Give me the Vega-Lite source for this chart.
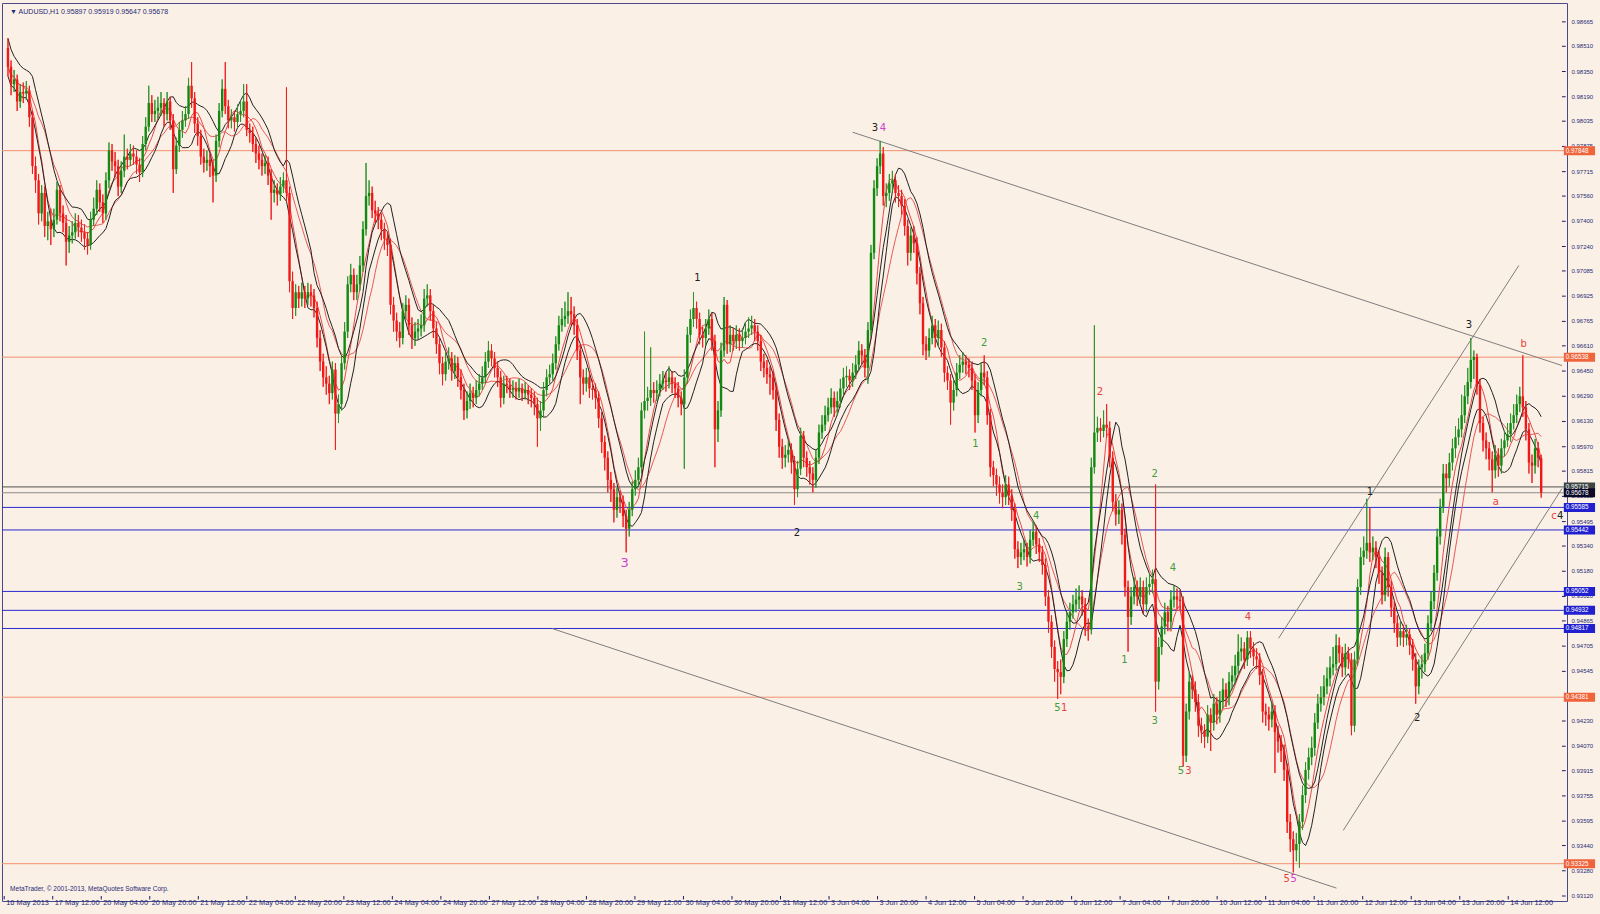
{
"$schema":"https://vega.github.io/schema/vega-lite/v6.json",
"width":1565,"height":898,
"autosize":{"type":"none"},
"padding":{"left":2,"top":3,"right":33,"bottom":13},
"background":"#FBF0E5",
"config":{"view":{"stroke":"#4A4A8A","strokeWidth":1,"fill":"#FBF0E5"},"text":{"font":"DejaVu Sans"}},
"resolve":{"scale":{"color":"independent","fill":"independent"}},
"datasets":{
"bars":[
{"i":0,"o":0.9850,"h":0.9856,"l":0.9832,"c":0.9838},{"i":1,"o":0.9838,"h":0.9842,"l":0.9820,"c":0.9827},{"i":2,"o":0.9827,"h":0.9836,"l":0.9822,"c":0.9830},{"i":3,"o":0.9830,"h":0.9833,"l":0.9810,"c":0.9816},{"i":4,"o":0.9816,"h":0.9827,"l":0.9812,"c":0.9822},{"i":5,"o":0.9822,"h":0.9828,"l":0.9815,"c":0.9821},{"i":6,"o":0.9821,"h":0.9829,"l":0.9817,"c":0.9823},{"i":7,"o":0.9823,"h":0.9826,"l":0.9800,"c":0.9806},{"i":8,"o":0.9806,"h":0.9810,"l":0.9770,"c":0.9775},{"i":9,"o":0.9775,"h":0.9781,"l":0.9758,"c":0.9766},
{"i":10,"o":0.9766,"h":0.9770,"l":0.9738,"c":0.9745},{"i":11,"o":0.9745,"h":0.9763,"l":0.9740,"c":0.9758},{"i":12,"o":0.9758,"h":0.9762,"l":0.9730,"c":0.9737},{"i":13,"o":0.9737,"h":0.9746,"l":0.9728,"c":0.9740},{"i":14,"o":0.9740,"h":0.9748,"l":0.9725,"c":0.9735},{"i":15,"o":0.9735,"h":0.9748,"l":0.9730,"c":0.9741},{"i":16,"o":0.9741,"h":0.9765,"l":0.9738,"c":0.9760},{"i":17,"o":0.9760,"h":0.9763,"l":0.9740,"c":0.9745},{"i":18,"o":0.9745,"h":0.9750,"l":0.9733,"c":0.9739},{"i":19,"o":0.9739,"h":0.9744,"l":0.9712,"c":0.9727},
{"i":20,"o":0.9727,"h":0.9737,"l":0.9720,"c":0.9731},{"i":21,"o":0.9731,"h":0.9740,"l":0.9726,"c":0.9733},{"i":22,"o":0.9733,"h":0.9745,"l":0.9729,"c":0.9739},{"i":23,"o":0.9739,"h":0.9744,"l":0.9730,"c":0.9736},{"i":24,"o":0.9736,"h":0.9741,"l":0.9727,"c":0.9733},{"i":25,"o":0.9733,"h":0.9738,"l":0.9722,"c":0.9729},{"i":26,"o":0.9729,"h":0.9733,"l":0.9719,"c":0.9725},{"i":27,"o":0.9725,"h":0.9746,"l":0.9722,"c":0.9741},{"i":28,"o":0.9741,"h":0.9755,"l":0.9737,"c":0.9748},{"i":29,"o":0.9748,"h":0.9766,"l":0.9744,"c":0.9760},
{"i":30,"o":0.9760,"h":0.9764,"l":0.9746,"c":0.9752},{"i":31,"o":0.9752,"h":0.9757,"l":0.9739,"c":0.9745},{"i":32,"o":0.9745,"h":0.9771,"l":0.9741,"c":0.9766},{"i":33,"o":0.9766,"h":0.9790,"l":0.9761,"c":0.9785},{"i":34,"o":0.9785,"h":0.9789,"l":0.9772,"c":0.9778},{"i":35,"o":0.9778,"h":0.9784,"l":0.9768,"c":0.9775},{"i":36,"o":0.9775,"h":0.9779,"l":0.9756,"c":0.9762},{"i":37,"o":0.9762,"h":0.9778,"l":0.9758,"c":0.9772},{"i":38,"o":0.9772,"h":0.9795,"l":0.9768,"c":0.9781},{"i":39,"o":0.9781,"h":0.9786,"l":0.9773,"c":0.9779},
{"i":40,"o":0.9779,"h":0.9789,"l":0.9775,"c":0.9783},{"i":41,"o":0.9783,"h":0.9788,"l":0.9776,"c":0.9781},{"i":42,"o":0.9781,"h":0.9785,"l":0.9770,"c":0.9776},{"i":43,"o":0.9776,"h":0.9780,"l":0.9765,"c":0.9771},{"i":44,"o":0.9771,"h":0.9794,"l":0.9768,"c":0.9789},{"i":45,"o":0.9789,"h":0.9806,"l":0.9785,"c":0.9800},{"i":46,"o":0.9800,"h":0.9826,"l":0.9797,"c":0.9815},{"i":47,"o":0.9815,"h":0.9820,"l":0.9803,"c":0.9808},{"i":48,"o":0.9808,"h":0.9817,"l":0.9803,"c":0.9810},{"i":49,"o":0.9810,"h":0.9819,"l":0.9805,"c":0.9812},
{"i":50,"o":0.9812,"h":0.9822,"l":0.9807,"c":0.9815},{"i":51,"o":0.9815,"h":0.9818,"l":0.9800,"c":0.9808},{"i":52,"o":0.9808,"h":0.9822,"l":0.9804,"c":0.9816},{"i":53,"o":0.9816,"h":0.9819,"l":0.9798,"c":0.9804},{"i":54,"o":0.9804,"h":0.9808,"l":0.9758,"c":0.9773},{"i":55,"o":0.9773,"h":0.9793,"l":0.9770,"c":0.9788},{"i":56,"o":0.9788,"h":0.9803,"l":0.9784,"c":0.9798},{"i":57,"o":0.9798,"h":0.9810,"l":0.9793,"c":0.9804},{"i":58,"o":0.9804,"h":0.9813,"l":0.9800,"c":0.9808},{"i":59,"o":0.9808,"h":0.9831,"l":0.9805,"c":0.9826},
{"i":60,"o":0.9826,"h":0.9841,"l":0.9812,"c":0.9818},{"i":61,"o":0.9818,"h":0.9822,"l":0.9796,"c":0.9802},{"i":62,"o":0.9802,"h":0.9806,"l":0.9788,"c":0.9794},{"i":63,"o":0.9794,"h":0.9798,"l":0.9776,"c":0.9781},{"i":64,"o":0.9781,"h":0.9786,"l":0.9771,"c":0.9777},{"i":65,"o":0.9777,"h":0.9785,"l":0.9772,"c":0.9779},{"i":66,"o":0.9779,"h":0.9783,"l":0.9768,"c":0.9775},{"i":67,"o":0.9775,"h":0.9779,"l":0.9752,"c":0.9769},{"i":68,"o":0.9769,"h":0.9795,"l":0.9765,"c":0.9791},{"i":69,"o":0.9791,"h":0.9815,"l":0.9787,"c":0.9810},
{"i":70,"o":0.9810,"h":0.9830,"l":0.9806,"c":0.9824},{"i":71,"o":0.9824,"h":0.9841,"l":0.9808,"c":0.9813},{"i":72,"o":0.9813,"h":0.9817,"l":0.9799,"c":0.9804},{"i":73,"o":0.9804,"h":0.9811,"l":0.9799,"c":0.9806},{"i":74,"o":0.9806,"h":0.9810,"l":0.9797,"c":0.9803},{"i":75,"o":0.9803,"h":0.9814,"l":0.9799,"c":0.9808},{"i":76,"o":0.9808,"h":0.9816,"l":0.9803,"c":0.9810},{"i":77,"o":0.9810,"h":0.9827,"l":0.9806,"c":0.9816},{"i":78,"o":0.9816,"h":0.9827,"l":0.9794,"c":0.9798},{"i":79,"o":0.9798,"h":0.9802,"l":0.9790,"c":0.9796},
{"i":80,"o":0.9796,"h":0.9800,"l":0.9784,"c":0.9789},{"i":81,"o":0.9789,"h":0.9793,"l":0.9777,"c":0.9783},{"i":82,"o":0.9783,"h":0.9788,"l":0.9773,"c":0.9779},{"i":83,"o":0.9779,"h":0.9783,"l":0.9769,"c":0.9775},{"i":84,"o":0.9775,"h":0.9782,"l":0.9770,"c":0.9777},{"i":85,"o":0.9777,"h":0.9781,"l":0.9763,"c":0.9769},{"i":86,"o":0.9769,"h":0.9773,"l":0.9741,"c":0.9758},{"i":87,"o":0.9758,"h":0.9766,"l":0.9752,"c":0.9760},{"i":88,"o":0.9760,"h":0.9764,"l":0.9750,"c":0.9757},{"i":89,"o":0.9757,"h":0.9768,"l":0.9753,"c":0.9762},
{"i":90,"o":0.9762,"h":0.9771,"l":0.9758,"c":0.9766},{"i":91,"o":0.9766,"h":0.9825,"l":0.9752,"c":0.9758},{"i":92,"o":0.9758,"h":0.9762,"l":0.9695,"c":0.9702},{"i":93,"o":0.9702,"h":0.9708,"l":0.9678,"c":0.9685},{"i":94,"o":0.9685,"h":0.9700,"l":0.9680,"c":0.9695},{"i":95,"o":0.9695,"h":0.9699,"l":0.9685,"c":0.9691},{"i":96,"o":0.9691,"h":0.9701,"l":0.9686,"c":0.9695},{"i":97,"o":0.9695,"h":0.9699,"l":0.9685,"c":0.9691},{"i":98,"o":0.9691,"h":0.9701,"l":0.9687,"c":0.9695},{"i":99,"o":0.9695,"h":0.9700,"l":0.9686,"c":0.9693},
{"i":100,"o":0.9693,"h":0.9697,"l":0.9679,"c":0.9685},{"i":101,"o":0.9685,"h":0.9689,"l":0.9660,"c":0.9666},{"i":102,"o":0.9666,"h":0.9671,"l":0.9645,"c":0.9651},{"i":103,"o":0.9651,"h":0.9656,"l":0.9635,"c":0.9641},{"i":104,"o":0.9641,"h":0.9648,"l":0.9630,"c":0.9637},{"i":105,"o":0.9637,"h":0.9642,"l":0.9624,"c":0.9631},{"i":106,"o":0.9631,"h":0.9651,"l":0.9627,"c":0.9646},{"i":107,"o":0.9646,"h":0.9650,"l":0.9595,"c":0.9618},{"i":108,"o":0.9618,"h":0.9630,"l":0.9612,"c":0.9624},{"i":109,"o":0.9624,"h":0.9655,"l":0.9620,"c":0.9650},
{"i":110,"o":0.9650,"h":0.9676,"l":0.9646,"c":0.9670},{"i":111,"o":0.9670,"h":0.9705,"l":0.9666,"c":0.9700},{"i":112,"o":0.9700,"h":0.9713,"l":0.9695,"c":0.9706},{"i":113,"o":0.9706,"h":0.9710,"l":0.9690,"c":0.9695},{"i":114,"o":0.9695,"h":0.9706,"l":0.9690,"c":0.9700},{"i":115,"o":0.9700,"h":0.9718,"l":0.9696,"c":0.9712},{"i":116,"o":0.9712,"h":0.9740,"l":0.9708,"c":0.9735},{"i":117,"o":0.9735,"h":0.9777,"l":0.9731,"c":0.9756},{"i":118,"o":0.9756,"h":0.9766,"l":0.9750,"c":0.9758},{"i":119,"o":0.9758,"h":0.9762,"l":0.9742,"c":0.9747},
{"i":120,"o":0.9747,"h":0.9753,"l":0.9739,"c":0.9745},{"i":121,"o":0.9745,"h":0.9749,"l":0.9735,"c":0.9741},{"i":122,"o":0.9741,"h":0.9745,"l":0.9728,"c":0.9735},{"i":123,"o":0.9735,"h":0.9739,"l":0.9722,"c":0.9729},{"i":124,"o":0.9729,"h":0.9733,"l":0.9718,"c":0.9725},{"i":125,"o":0.9725,"h":0.9729,"l":0.9681,"c":0.9687},{"i":126,"o":0.9687,"h":0.9692,"l":0.9670,"c":0.9677},{"i":127,"o":0.9677,"h":0.9682,"l":0.9664,"c":0.9670},{"i":128,"o":0.9670,"h":0.9676,"l":0.9660,"c":0.9666},{"i":129,"o":0.9666,"h":0.9688,"l":0.9662,"c":0.9683},
{"i":130,"o":0.9683,"h":0.9693,"l":0.9678,"c":0.9687},{"i":131,"o":0.9687,"h":0.9691,"l":0.9668,"c":0.9674},{"i":132,"o":0.9674,"h":0.9679,"l":0.9659,"c":0.9666},{"i":133,"o":0.9666,"h":0.9676,"l":0.9661,"c":0.9670},{"i":134,"o":0.9670,"h":0.9678,"l":0.9665,"c":0.9672},{"i":135,"o":0.9672,"h":0.9681,"l":0.9667,"c":0.9674},{"i":136,"o":0.9674,"h":0.9697,"l":0.9670,"c":0.9691},{"i":137,"o":0.9691,"h":0.9700,"l":0.9686,"c":0.9693},{"i":138,"o":0.9693,"h":0.9697,"l":0.9677,"c":0.9683},{"i":139,"o":0.9683,"h":0.9687,"l":0.9666,"c":0.9672},
{"i":140,"o":0.9672,"h":0.9676,"l":0.9656,"c":0.9662},{"i":141,"o":0.9662,"h":0.9666,"l":0.9643,"c":0.9650},{"i":142,"o":0.9650,"h":0.9654,"l":0.9636,"c":0.9643},{"i":143,"o":0.9643,"h":0.9657,"l":0.9639,"c":0.9651},{"i":144,"o":0.9651,"h":0.9660,"l":0.9646,"c":0.9653},{"i":145,"o":0.9653,"h":0.9657,"l":0.9639,"c":0.9645},{"i":146,"o":0.9645,"h":0.9655,"l":0.9640,"c":0.9650},{"i":147,"o":0.9650,"h":0.9654,"l":0.9635,"c":0.9641},{"i":148,"o":0.9641,"h":0.9646,"l":0.9627,"c":0.9633},{"i":149,"o":0.9633,"h":0.9637,"l":0.9614,"c":0.9620},
{"i":150,"o":0.9620,"h":0.9632,"l":0.9615,"c":0.9626},{"i":151,"o":0.9626,"h":0.9637,"l":0.9621,"c":0.9631},{"i":152,"o":0.9631,"h":0.9635,"l":0.9622,"c":0.9628},{"i":153,"o":0.9628,"h":0.9639,"l":0.9624,"c":0.9633},{"i":154,"o":0.9633,"h":0.9643,"l":0.9629,"c":0.9637},{"i":155,"o":0.9637,"h":0.9648,"l":0.9633,"c":0.9641},{"i":156,"o":0.9641,"h":0.9657,"l":0.9637,"c":0.9651},{"i":157,"o":0.9651,"h":0.9664,"l":0.9647,"c":0.9658},{"i":158,"o":0.9658,"h":0.9662,"l":0.9648,"c":0.9653},{"i":159,"o":0.9653,"h":0.9657,"l":0.9641,"c":0.9647},
{"i":160,"o":0.9647,"h":0.9651,"l":0.9635,"c":0.9641},{"i":161,"o":0.9641,"h":0.9645,"l":0.9622,"c":0.9628},{"i":162,"o":0.9628,"h":0.9642,"l":0.9624,"c":0.9637},{"i":163,"o":0.9637,"h":0.9642,"l":0.9631,"c":0.9636},{"i":164,"o":0.9636,"h":0.9640,"l":0.9628,"c":0.9633},{"i":165,"o":0.9633,"h":0.9639,"l":0.9628,"c":0.9634},{"i":166,"o":0.9634,"h":0.9638,"l":0.9627,"c":0.9632},{"i":167,"o":0.9632,"h":0.9640,"l":0.9628,"c":0.9634},{"i":168,"o":0.9634,"h":0.9637,"l":0.9626,"c":0.9631},{"i":169,"o":0.9631,"h":0.9638,"l":0.9627,"c":0.9633},
{"i":170,"o":0.9633,"h":0.9636,"l":0.9624,"c":0.9630},{"i":171,"o":0.9630,"h":0.9634,"l":0.9622,"c":0.9628},{"i":172,"o":0.9628,"h":0.9632,"l":0.9617,"c":0.9624},{"i":173,"o":0.9624,"h":0.9628,"l":0.9597,"c":0.9615},{"i":174,"o":0.9615,"h":0.9626,"l":0.9607,"c":0.9620},{"i":175,"o":0.9620,"h":0.9638,"l":0.9616,"c":0.9633},{"i":176,"o":0.9633,"h":0.9646,"l":0.9629,"c":0.9641},{"i":177,"o":0.9641,"h":0.9649,"l":0.9637,"c":0.9643},{"i":178,"o":0.9643,"h":0.9656,"l":0.9639,"c":0.9650},{"i":179,"o":0.9650,"h":0.9667,"l":0.9646,"c":0.9662},
{"i":180,"o":0.9662,"h":0.9680,"l":0.9658,"c":0.9674},{"i":181,"o":0.9674,"h":0.9685,"l":0.9670,"c":0.9678},{"i":182,"o":0.9678,"h":0.9689,"l":0.9673,"c":0.9680},{"i":183,"o":0.9680,"h":0.9695,"l":0.9675,"c":0.9683},{"i":184,"o":0.9683,"h":0.9692,"l":0.9674,"c":0.9681},{"i":185,"o":0.9681,"h":0.9686,"l":0.9668,"c":0.9674},{"i":186,"o":0.9674,"h":0.9678,"l":0.9652,"c":0.9658},{"i":187,"o":0.9658,"h":0.9662,"l":0.9624,"c":0.9641},{"i":188,"o":0.9641,"h":0.9646,"l":0.9630,"c":0.9637},{"i":189,"o":0.9637,"h":0.9647,"l":0.9632,"c":0.9641},
{"i":190,"o":0.9641,"h":0.9645,"l":0.9628,"c":0.9634},{"i":191,"o":0.9634,"h":0.9639,"l":0.9627,"c":0.9633},{"i":192,"o":0.9633,"h":0.9637,"l":0.9621,"c":0.9628},{"i":193,"o":0.9628,"h":0.9632,"l":0.9609,"c":0.9615},{"i":194,"o":0.9615,"h":0.9619,"l":0.9593,"c":0.9600},{"i":195,"o":0.9600,"h":0.9604,"l":0.9582,"c":0.9590},{"i":196,"o":0.9590,"h":0.9594,"l":0.9568,"c":0.9576},{"i":197,"o":0.9576,"h":0.9581,"l":0.9562,"c":0.9570},{"i":198,"o":0.9570,"h":0.9574,"l":0.9549,"c":0.9557},{"i":199,"o":0.9557,"h":0.9571,"l":0.9552,"c":0.9565},
{"i":200,"o":0.9565,"h":0.9569,"l":0.9555,"c":0.9562},{"i":201,"o":0.9562,"h":0.9566,"l":0.9546,"c":0.9553},{"i":202,"o":0.9553,"h":0.9557,"l":0.9530,"c":0.9545},{"i":203,"o":0.9545,"h":0.9562,"l":0.9540,"c":0.9557},{"i":204,"o":0.9557,"h":0.9575,"l":0.9553,"c":0.9570},{"i":205,"o":0.9570,"h":0.9582,"l":0.9566,"c":0.9576},{"i":206,"o":0.9576,"h":0.9590,"l":0.9572,"c":0.9584},{"i":207,"o":0.9584,"h":0.9625,"l":0.9580,"c":0.9620},{"i":208,"o":0.9620,"h":0.9670,"l":0.9615,"c":0.9626},{"i":209,"o":0.9626,"h":0.9635,"l":0.9620,"c":0.9628},
{"i":210,"o":0.9628,"h":0.9660,"l":0.9623,"c":0.9633},{"i":211,"o":0.9633,"h":0.9638,"l":0.9625,"c":0.9631},{"i":212,"o":0.9631,"h":0.9639,"l":0.9626,"c":0.9633},{"i":213,"o":0.9633,"h":0.9643,"l":0.9629,"c":0.9637},{"i":214,"o":0.9637,"h":0.9645,"l":0.9633,"c":0.9639},{"i":215,"o":0.9639,"h":0.9644,"l":0.9632,"c":0.9638},{"i":216,"o":0.9638,"h":0.9648,"l":0.9634,"c":0.9641},{"i":217,"o":0.9641,"h":0.9645,"l":0.9631,"c":0.9637},{"i":218,"o":0.9637,"h":0.9641,"l":0.9628,"c":0.9634},{"i":219,"o":0.9634,"h":0.9638,"l":0.9622,"c":0.9628},
{"i":220,"o":0.9628,"h":0.9632,"l":0.9617,"c":0.9624},{"i":221,"o":0.9624,"h":0.9646,"l":0.9583,"c":0.9641},{"i":222,"o":0.9641,"h":0.9673,"l":0.9637,"c":0.9668},{"i":223,"o":0.9668,"h":0.9684,"l":0.9663,"c":0.9678},{"i":224,"o":0.9678,"h":0.9695,"l":0.9673,"c":0.9685},{"i":225,"o":0.9685,"h":0.9689,"l":0.9672,"c":0.9678},{"i":226,"o":0.9678,"h":0.9682,"l":0.9662,"c":0.9668},{"i":227,"o":0.9668,"h":0.9673,"l":0.9660,"c":0.9666},{"i":228,"o":0.9666,"h":0.9678,"l":0.9661,"c":0.9672},{"i":229,"o":0.9672,"h":0.9684,"l":0.9668,"c":0.9678},
{"i":230,"o":0.9678,"h":0.9682,"l":0.9658,"c":0.9664},{"i":231,"o":0.9664,"h":0.9668,"l":0.9584,"c":0.9608},{"i":232,"o":0.9608,"h":0.9626,"l":0.9600,"c":0.9620},{"i":233,"o":0.9620,"h":0.9663,"l":0.9616,"c":0.9658},{"i":234,"o":0.9658,"h":0.9692,"l":0.9654,"c":0.9687},{"i":235,"o":0.9687,"h":0.9690,"l":0.9656,"c":0.9662},{"i":236,"o":0.9662,"h":0.9674,"l":0.9657,"c":0.9668},{"i":237,"o":0.9668,"h":0.9672,"l":0.9658,"c":0.9664},{"i":238,"o":0.9664,"h":0.9674,"l":0.9659,"c":0.9668},{"i":239,"o":0.9668,"h":0.9672,"l":0.9658,"c":0.9664},
{"i":240,"o":0.9664,"h":0.9672,"l":0.9660,"c":0.9666},{"i":241,"o":0.9666,"h":0.9676,"l":0.9662,"c":0.9670},{"i":242,"o":0.9670,"h":0.9679,"l":0.9666,"c":0.9672},{"i":243,"o":0.9672,"h":0.9680,"l":0.9668,"c":0.9674},{"i":244,"o":0.9674,"h":0.9678,"l":0.9664,"c":0.9670},{"i":245,"o":0.9670,"h":0.9674,"l":0.9658,"c":0.9664},{"i":246,"o":0.9664,"h":0.9668,"l":0.9645,"c":0.9651},{"i":247,"o":0.9651,"h":0.9656,"l":0.9641,"c":0.9647},{"i":248,"o":0.9647,"h":0.9652,"l":0.9637,"c":0.9643},{"i":249,"o":0.9643,"h":0.9648,"l":0.9630,"c":0.9641},
{"i":250,"o":0.9641,"h":0.9645,"l":0.9627,"c":0.9633},{"i":251,"o":0.9633,"h":0.9637,"l":0.9607,"c":0.9614},{"i":252,"o":0.9614,"h":0.9618,"l":0.9590,"c":0.9597},{"i":253,"o":0.9597,"h":0.9602,"l":0.9583,"c":0.9590},{"i":254,"o":0.9590,"h":0.9598,"l":0.9584,"c":0.9592},{"i":255,"o":0.9592,"h":0.9601,"l":0.9587,"c":0.9595},{"i":256,"o":0.9595,"h":0.9599,"l":0.9580,"c":0.9587},{"i":257,"o":0.9587,"h":0.9591,"l":0.9560,"c":0.9570},{"i":258,"o":0.9570,"h":0.9588,"l":0.9565,"c":0.9583},{"i":259,"o":0.9583,"h":0.9609,"l":0.9579,"c":0.9604},
{"i":260,"o":0.9604,"h":0.9607,"l":0.9584,"c":0.9590},{"i":261,"o":0.9590,"h":0.9594,"l":0.9578,"c":0.9584},{"i":262,"o":0.9584,"h":0.9588,"l":0.9573,"c":0.9580},{"i":263,"o":0.9580,"h":0.9584,"l":0.9568,"c":0.9576},{"i":264,"o":0.9576,"h":0.9595,"l":0.9571,"c":0.9590},{"i":265,"o":0.9590,"h":0.9611,"l":0.9586,"c":0.9606},{"i":266,"o":0.9606,"h":0.9617,"l":0.9602,"c":0.9611},{"i":267,"o":0.9611,"h":0.9623,"l":0.9607,"c":0.9617},{"i":268,"o":0.9617,"h":0.9628,"l":0.9613,"c":0.9622},{"i":269,"o":0.9622,"h":0.9634,"l":0.9618,"c":0.9628},
{"i":270,"o":0.9628,"h":0.9632,"l":0.9616,"c":0.9622},{"i":271,"o":0.9622,"h":0.9632,"l":0.9617,"c":0.9626},{"i":272,"o":0.9626,"h":0.9640,"l":0.9622,"c":0.9634},{"i":273,"o":0.9634,"h":0.9647,"l":0.9630,"c":0.9641},{"i":274,"o":0.9641,"h":0.9648,"l":0.9635,"c":0.9642},{"i":275,"o":0.9642,"h":0.9646,"l":0.9633,"c":0.9639},{"i":276,"o":0.9639,"h":0.9650,"l":0.9635,"c":0.9644},{"i":277,"o":0.9644,"h":0.9655,"l":0.9640,"c":0.9649},{"i":278,"o":0.9649,"h":0.9664,"l":0.9645,"c":0.9658},{"i":279,"o":0.9658,"h":0.9662,"l":0.9649,"c":0.9655},
{"i":280,"o":0.9655,"h":0.9659,"l":0.9641,"c":0.9647},{"i":281,"o":0.9647,"h":0.9676,"l":0.9637,"c":0.9671},{"i":282,"o":0.9671,"h":0.9725,"l":0.9667,"c":0.9720},{"i":283,"o":0.9720,"h":0.9766,"l":0.9716,"c":0.9761},{"i":284,"o":0.9761,"h":0.9780,"l":0.9756,"c":0.9775},{"i":285,"o":0.9775,"h":0.9791,"l":0.9770,"c":0.9783},{"i":286,"o":0.9783,"h":0.9787,"l":0.9750,"c":0.9756},{"i":287,"o":0.9756,"h":0.9764,"l":0.9749,"c":0.9758},{"i":288,"o":0.9758,"h":0.9770,"l":0.9753,"c":0.9764},{"i":289,"o":0.9764,"h":0.9772,"l":0.9759,"c":0.9766},
{"i":290,"o":0.9766,"h":0.9770,"l":0.9752,"c":0.9758},{"i":291,"o":0.9758,"h":0.9763,"l":0.9749,"c":0.9756},{"i":292,"o":0.9756,"h":0.9760,"l":0.9744,"c":0.9750},{"i":293,"o":0.9750,"h":0.9754,"l":0.9731,"c":0.9737},{"i":294,"o":0.9737,"h":0.9741,"l":0.9712,"c":0.9720},{"i":295,"o":0.9720,"h":0.9736,"l":0.9715,"c":0.9731},{"i":296,"o":0.9731,"h":0.9737,"l":0.9720,"c":0.9726},{"i":297,"o":0.9726,"h":0.9730,"l":0.9700,"c":0.9707},{"i":298,"o":0.9707,"h":0.9711,"l":0.9681,"c":0.9688},{"i":299,"o":0.9688,"h":0.9692,"l":0.9655,"c":0.9662},
{"i":300,"o":0.9662,"h":0.9667,"l":0.9652,"c":0.9658},{"i":301,"o":0.9658,"h":0.9672,"l":0.9654,"c":0.9666},{"i":302,"o":0.9666,"h":0.9680,"l":0.9662,"c":0.9674},{"i":303,"o":0.9674,"h":0.9678,"l":0.9660,"c":0.9666},{"i":304,"o":0.9666,"h":0.9677,"l":0.9661,"c":0.9671},{"i":305,"o":0.9671,"h":0.9675,"l":0.9654,"c":0.9660},{"i":306,"o":0.9660,"h":0.9664,"l":0.9638,"c":0.9644},{"i":307,"o":0.9644,"h":0.9648,"l":0.9633,"c":0.9639},{"i":308,"o":0.9639,"h":0.9643,"l":0.9611,"c":0.9625},{"i":309,"o":0.9625,"h":0.9639,"l":0.9620,"c":0.9633},
{"i":310,"o":0.9633,"h":0.9650,"l":0.9629,"c":0.9644},{"i":311,"o":0.9644,"h":0.9655,"l":0.9640,"c":0.9649},{"i":312,"o":0.9649,"h":0.9657,"l":0.9644,"c":0.9651},{"i":313,"o":0.9651,"h":0.9655,"l":0.9643,"c":0.9649},{"i":314,"o":0.9649,"h":0.9653,"l":0.9641,"c":0.9647},{"i":315,"o":0.9647,"h":0.9651,"l":0.9633,"c":0.9639},{"i":316,"o":0.9639,"h":0.9643,"l":0.9606,"c":0.9617},{"i":317,"o":0.9617,"h":0.9638,"l":0.9612,"c":0.9633},{"i":318,"o":0.9633,"h":0.9650,"l":0.9629,"c":0.9644},{"i":319,"o":0.9644,"h":0.9655,"l":0.9636,"c":0.9641},
{"i":320,"o":0.9641,"h":0.9645,"l":0.9611,"c":0.9617},{"i":321,"o":0.9617,"h":0.9621,"l":0.9578,"c":0.9584},{"i":322,"o":0.9584,"h":0.9588,"l":0.9572,"c":0.9579},{"i":323,"o":0.9579,"h":0.9583,"l":0.9566,"c":0.9573},{"i":324,"o":0.9573,"h":0.9578,"l":0.9561,"c":0.9568},{"i":325,"o":0.9568,"h":0.9573,"l":0.9558,"c":0.9565},{"i":326,"o":0.9565,"h":0.9579,"l":0.9560,"c":0.9573},{"i":327,"o":0.9573,"h":0.9578,"l":0.9560,"c":0.9566},{"i":328,"o":0.9566,"h":0.9570,"l":0.9550,"c":0.9557},{"i":329,"o":0.9557,"h":0.9561,"l":0.9526,"c":0.9532},
{"i":330,"o":0.9532,"h":0.9537,"l":0.9520,"c":0.9527},{"i":331,"o":0.9527,"h":0.9536,"l":0.9522,"c":0.9530},{"i":332,"o":0.9530,"h":0.9538,"l":0.9525,"c":0.9532},{"i":333,"o":0.9532,"h":0.9536,"l":0.9521,"c":0.9527},{"i":334,"o":0.9527,"h":0.9544,"l":0.9523,"c":0.9538},{"i":335,"o":0.9538,"h":0.9550,"l":0.9534,"c":0.9543},{"i":336,"o":0.9543,"h":0.9547,"l":0.9529,"c":0.9535},{"i":337,"o":0.9535,"h":0.9539,"l":0.9524,"c":0.9530},{"i":338,"o":0.9530,"h":0.9534,"l":0.9516,"c":0.9522},{"i":339,"o":0.9522,"h":0.9526,"l":0.9496,"c":0.9502},
{"i":340,"o":0.9502,"h":0.9506,"l":0.9479,"c":0.9486},{"i":341,"o":0.9486,"h":0.9490,"l":0.9463,"c":0.9470},{"i":342,"o":0.9470,"h":0.9474,"l":0.9448,"c":0.9456},{"i":343,"o":0.9456,"h":0.9461,"l":0.9437,"c":0.9454},{"i":344,"o":0.9454,"h":0.9462,"l":0.9440,"c":0.9451},{"i":345,"o":0.9451,"h":0.9480,"l":0.9447,"c":0.9475},{"i":346,"o":0.9475,"h":0.9492,"l":0.9470,"c":0.9486},{"i":347,"o":0.9486,"h":0.9498,"l":0.9481,"c":0.9492},{"i":348,"o":0.9492,"h":0.9503,"l":0.9488,"c":0.9497},{"i":349,"o":0.9497,"h":0.9507,"l":0.9492,"c":0.9500},
{"i":350,"o":0.9500,"h":0.9509,"l":0.9494,"c":0.9502},{"i":351,"o":0.9502,"h":0.9506,"l":0.9490,"c":0.9497},{"i":352,"o":0.9497,"h":0.9501,"l":0.9477,"c":0.9483},{"i":353,"o":0.9483,"h":0.9488,"l":0.9474,"c":0.9481},{"i":354,"o":0.9481,"h":0.9590,"l":0.9478,"c":0.9584},{"i":355,"o":0.9584,"h":0.9674,"l":0.9580,"c":0.9606},{"i":356,"o":0.9606,"h":0.9616,"l":0.9600,"c":0.9609},{"i":357,"o":0.9609,"h":0.9615,"l":0.9600,"c":0.9607},{"i":358,"o":0.9607,"h":0.9620,"l":0.9603,"c":0.9611},{"i":359,"o":0.9611,"h":0.9624,"l":0.9603,"c":0.9609},
{"i":360,"o":0.9609,"h":0.9613,"l":0.9584,"c":0.9590},{"i":361,"o":0.9590,"h":0.9594,"l":0.9556,"c":0.9562},{"i":362,"o":0.9562,"h":0.9567,"l":0.9547,"c":0.9554},{"i":363,"o":0.9554,"h":0.9563,"l":0.9548,"c":0.9557},{"i":364,"o":0.9557,"h":0.9561,"l":0.9535,"c":0.9541},{"i":365,"o":0.9541,"h":0.9545,"l":0.9502,"c":0.9508},{"i":366,"o":0.9508,"h":0.9512,"l":0.9467,"c":0.9489},{"i":367,"o":0.9489,"h":0.9508,"l":0.9484,"c":0.9502},{"i":368,"o":0.9502,"h":0.9514,"l":0.9497,"c":0.9508},{"i":369,"o":0.9508,"h":0.9512,"l":0.9496,"c":0.9502},
{"i":370,"o":0.9502,"h":0.9514,"l":0.9497,"c":0.9508},{"i":371,"o":0.9508,"h":0.9512,"l":0.9491,"c":0.9497},{"i":372,"o":0.9497,"h":0.9514,"l":0.9492,"c":0.9508},{"i":373,"o":0.9508,"h":0.9517,"l":0.9503,"c":0.9510},{"i":374,"o":0.9510,"h":0.9519,"l":0.9504,"c":0.9513},{"i":375,"o":0.9513,"h":0.9573,"l":0.9429,"c":0.9448},{"i":376,"o":0.9448,"h":0.9476,"l":0.9443,"c":0.9470},{"i":377,"o":0.9470,"h":0.9489,"l":0.9465,"c":0.9483},{"i":378,"o":0.9483,"h":0.9498,"l":0.9478,"c":0.9492},{"i":379,"o":0.9492,"h":0.9496,"l":0.9480,"c":0.9486},
{"i":380,"o":0.9486,"h":0.9506,"l":0.9481,"c":0.9500},{"i":381,"o":0.9500,"h":0.9509,"l":0.9495,"c":0.9502},{"i":382,"o":0.9502,"h":0.9507,"l":0.9494,"c":0.9500},{"i":383,"o":0.9500,"h":0.9506,"l":0.9493,"c":0.9499},{"i":384,"o":0.9499,"h":0.9502,"l":0.9394,"c":0.9401},{"i":385,"o":0.9401,"h":0.9434,"l":0.9397,"c":0.9429},{"i":386,"o":0.9429,"h":0.9454,"l":0.9424,"c":0.9448},{"i":387,"o":0.9448,"h":0.9452,"l":0.9437,"c":0.9443},{"i":388,"o":0.9443,"h":0.9448,"l":0.9429,"c":0.9435},{"i":389,"o":0.9435,"h":0.9440,"l":0.9413,"c":0.9420},
{"i":390,"o":0.9420,"h":0.9425,"l":0.9409,"c":0.9417},{"i":391,"o":0.9417,"h":0.9421,"l":0.9406,"c":0.9413},{"i":392,"o":0.9413,"h":0.9433,"l":0.9409,"c":0.9427},{"i":393,"o":0.9427,"h":0.9431,"l":0.9404,"c":0.9422},{"i":394,"o":0.9422,"h":0.9440,"l":0.9417,"c":0.9434},{"i":395,"o":0.9434,"h":0.9438,"l":0.9421,"c":0.9427},{"i":396,"o":0.9427,"h":0.9442,"l":0.9422,"c":0.9436},{"i":397,"o":0.9436,"h":0.9450,"l":0.9431,"c":0.9443},{"i":398,"o":0.9443,"h":0.9447,"l":0.9432,"c":0.9438},{"i":399,"o":0.9438,"h":0.9454,"l":0.9433,"c":0.9448},
{"i":400,"o":0.9448,"h":0.9458,"l":0.9443,"c":0.9452},{"i":401,"o":0.9452,"h":0.9465,"l":0.9447,"c":0.9458},{"i":402,"o":0.9458,"h":0.9478,"l":0.9453,"c":0.9467},{"i":403,"o":0.9467,"h":0.9476,"l":0.9461,"c":0.9469},{"i":404,"o":0.9469,"h":0.9473,"l":0.9456,"c":0.9462},{"i":405,"o":0.9462,"h":0.9480,"l":0.9458,"c":0.9476},{"i":406,"o":0.9476,"h":0.9480,"l":0.9463,"c":0.9469},{"i":407,"o":0.9469,"h":0.9473,"l":0.9458,"c":0.9464},{"i":408,"o":0.9464,"h":0.9469,"l":0.9456,"c":0.9462},{"i":409,"o":0.9462,"h":0.9466,"l":0.9446,"c":0.9452},
{"i":410,"o":0.9452,"h":0.9456,"l":0.9422,"c":0.9429},{"i":411,"o":0.9429,"h":0.9434,"l":0.9420,"c":0.9427},{"i":412,"o":0.9427,"h":0.9432,"l":0.9417,"c":0.9424},{"i":413,"o":0.9424,"h":0.9435,"l":0.9419,"c":0.9429},{"i":414,"o":0.9429,"h":0.9433,"l":0.9390,"c":0.9416},{"i":415,"o":0.9416,"h":0.9420,"l":0.9403,"c":0.9410},{"i":416,"o":0.9410,"h":0.9414,"l":0.9397,"c":0.9404},{"i":417,"o":0.9404,"h":0.9408,"l":0.9385,"c":0.9392},{"i":418,"o":0.9392,"h":0.9396,"l":0.9352,"c":0.9359},{"i":419,"o":0.9359,"h":0.9364,"l":0.9340,"c":0.9348},
{"i":420,"o":0.9348,"h":0.9353,"l":0.9327,"c":0.9341},{"i":421,"o":0.9341,"h":0.9352,"l":0.9334,"c":0.9345},{"i":422,"o":0.9345,"h":0.9364,"l":0.9330,"c":0.9359},{"i":423,"o":0.9359,"h":0.9382,"l":0.9354,"c":0.9376},{"i":424,"o":0.9376,"h":0.9397,"l":0.9371,"c":0.9392},{"i":425,"o":0.9392,"h":0.9406,"l":0.9386,"c":0.9400},{"i":426,"o":0.9400,"h":0.9413,"l":0.9395,"c":0.9406},{"i":427,"o":0.9406,"h":0.9428,"l":0.9401,"c":0.9422},{"i":428,"o":0.9422,"h":0.9440,"l":0.9418,"c":0.9434},{"i":429,"o":0.9434,"h":0.9445,"l":0.9429,"c":0.9438},
{"i":430,"o":0.9438,"h":0.9452,"l":0.9433,"c":0.9445},{"i":431,"o":0.9445,"h":0.9457,"l":0.9440,"c":0.9450},{"i":432,"o":0.9450,"h":0.9464,"l":0.9445,"c":0.9457},{"i":433,"o":0.9457,"h":0.9470,"l":0.9452,"c":0.9459},{"i":434,"o":0.9459,"h":0.9478,"l":0.9455,"c":0.9471},{"i":435,"o":0.9471,"h":0.9476,"l":0.9460,"c":0.9466},{"i":436,"o":0.9466,"h":0.9470,"l":0.9451,"c":0.9457},{"i":437,"o":0.9457,"h":0.9472,"l":0.9452,"c":0.9466},{"i":438,"o":0.9466,"h":0.9470,"l":0.9456,"c":0.9462},{"i":439,"o":0.9462,"h":0.9466,"l":0.9414,"c":0.9420},
{"i":440,"o":0.9420,"h":0.9467,"l":0.9416,"c":0.9462},{"i":441,"o":0.9462,"h":0.9513,"l":0.9458,"c":0.9508},{"i":442,"o":0.9508,"h":0.9533,"l":0.9503,"c":0.9527},{"i":443,"o":0.9527,"h":0.9540,"l":0.9522,"c":0.9531},{"i":444,"o":0.9531,"h":0.9564,"l":0.9526,"c":0.9536},{"i":445,"o":0.9536,"h":0.9558,"l":0.9524,"c":0.9530},{"i":446,"o":0.9530,"h":0.9540,"l":0.9525,"c":0.9533},{"i":447,"o":0.9533,"h":0.9537,"l":0.9520,"c":0.9527},{"i":448,"o":0.9527,"h":0.9531,"l":0.9510,"c":0.9517},{"i":449,"o":0.9517,"h":0.9521,"l":0.9497,"c":0.9503},
{"i":450,"o":0.9503,"h":0.9533,"l":0.9499,"c":0.9527},{"i":451,"o":0.9527,"h":0.9530,"l":0.9502,"c":0.9508},{"i":452,"o":0.9508,"h":0.9512,"l":0.9489,"c":0.9495},{"i":453,"o":0.9495,"h":0.9499,"l":0.9479,"c":0.9485},{"i":454,"o":0.9485,"h":0.9490,"l":0.9470,"c":0.9476},{"i":455,"o":0.9476,"h":0.9486,"l":0.9471,"c":0.9480},{"i":456,"o":0.9480,"h":0.9484,"l":0.9470,"c":0.9476},{"i":457,"o":0.9476,"h":0.9484,"l":0.9471,"c":0.9478},{"i":458,"o":0.9478,"h":0.9482,"l":0.9465,"c":0.9471},{"i":459,"o":0.9471,"h":0.9475,"l":0.9455,"c":0.9462},
{"i":460,"o":0.9462,"h":0.9466,"l":0.9434,"c":0.9445},{"i":461,"o":0.9445,"h":0.9462,"l":0.9440,"c":0.9457},{"i":462,"o":0.9457,"h":0.9465,"l":0.9450,"c":0.9459},{"i":463,"o":0.9459,"h":0.9472,"l":0.9454,"c":0.9466},{"i":464,"o":0.9466,"h":0.9490,"l":0.9462,"c":0.9485},{"i":465,"o":0.9485,"h":0.9505,"l":0.9480,"c":0.9499},{"i":466,"o":0.9499,"h":0.9522,"l":0.9494,"c":0.9517},{"i":467,"o":0.9517,"h":0.9545,"l":0.9512,"c":0.9540},{"i":468,"o":0.9540,"h":0.9564,"l":0.9535,"c":0.9559},{"i":469,"o":0.9559,"h":0.9586,"l":0.9555,"c":0.9580},
{"i":470,"o":0.9580,"h":0.9586,"l":0.9568,"c":0.9577},{"i":471,"o":0.9577,"h":0.9593,"l":0.9572,"c":0.9587},{"i":472,"o":0.9587,"h":0.9602,"l":0.9582,"c":0.9596},{"i":473,"o":0.9596,"h":0.9610,"l":0.9590,"c":0.9603},{"i":474,"o":0.9603,"h":0.9615,"l":0.9598,"c":0.9608},{"i":475,"o":0.9608,"h":0.9630,"l":0.9603,"c":0.9617},{"i":476,"o":0.9617,"h":0.9636,"l":0.9612,"c":0.9629},{"i":477,"o":0.9629,"h":0.9647,"l":0.9624,"c":0.9638},{"i":478,"o":0.9638,"h":0.9666,"l":0.9634,"c":0.9652},{"i":479,"o":0.9652,"h":0.9658,"l":0.9640,"c":0.9654},
{"i":480,"o":0.9654,"h":0.9656,"l":0.9630,"c":0.9636},{"i":481,"o":0.9636,"h":0.9640,"l":0.9606,"c":0.9612},{"i":482,"o":0.9612,"h":0.9616,"l":0.9594,"c":0.9601},{"i":483,"o":0.9601,"h":0.9606,"l":0.9589,"c":0.9596},{"i":484,"o":0.9596,"h":0.9600,"l":0.9582,"c":0.9589},{"i":485,"o":0.9589,"h":0.9594,"l":0.9568,"c":0.9582},{"i":486,"o":0.9582,"h":0.9598,"l":0.9577,"c":0.9592},{"i":487,"o":0.9592,"h":0.9596,"l":0.9578,"c":0.9585},{"i":488,"o":0.9585,"h":0.9602,"l":0.9580,"c":0.9596},{"i":489,"o":0.9596,"h":0.9607,"l":0.9591,"c":0.9601},
{"i":490,"o":0.9601,"h":0.9612,"l":0.9597,"c":0.9605},{"i":491,"o":0.9605,"h":0.9618,"l":0.9600,"c":0.9612},{"i":492,"o":0.9612,"h":0.9624,"l":0.9608,"c":0.9617},{"i":493,"o":0.9617,"h":0.9630,"l":0.9612,"c":0.9624},{"i":494,"o":0.9624,"h":0.9635,"l":0.9619,"c":0.9629},{"i":495,"o":0.9629,"h":0.9655,"l":0.9616,"c":0.9622},{"i":496,"o":0.9622,"h":0.9626,"l":0.9601,"c":0.9608},{"i":497,"o":0.9608,"h":0.9612,"l":0.9580,"c":0.9587},{"i":498,"o":0.9587,"h":0.9592,"l":0.9574,"c":0.9585},{"i":499,"o":0.9585,"h":0.9602,"l":0.9580,"c":0.9596},
{"i":500,"o":0.9596,"h":0.9600,"l":0.9584,"c":0.9590},{"i":501,"o":0.95897,"h":0.95919,"l":0.95647,"c":0.95678}
],
"hl":[
{"p":0.97848,"k":"o"},{"p":0.96538,"k":"o"},{"p":0.94381,"k":"o"},{"p":0.93325,"k":"o"},
{"p":0.95715,"k":"g"},{"p":0.95678,"k":"n"},
{"p":0.95585,"k":"b"},{"p":0.95442,"k":"b"},{"p":0.95052,"k":"b"},{"p":0.94932,"k":"b"},{"p":0.94817,"k":"b"}
],
"tl":[
{"g":1,"i":276.0,"p":0.97965},{"g":1,"i":507.8,"p":0.96485},
{"g":2,"i":177.9,"p":0.94816},{"g":2,"i":434.1,"p":0.93170},
{"g":3,"i":415.2,"p":0.94755},{"g":3,"i":493.7,"p":0.97120},
{"g":4,"i":436.3,"p":0.93536},{"g":4,"i":507.8,"p":0.95705}
],
"lab":[
{"i":283.3,"p":0.9799,"t":"3","k":"k"},{"i":285.9,"p":0.9799,"t":"4","k":"m"},
{"i":225.3,"p":0.9704,"t":"1","k":"k"},{"i":257.8,"p":0.9542,"t":"2","k":"k"},
{"i":319.0,"p":0.9663,"t":"2","k":"g"},{"i":316.1,"p":0.9599,"t":"1","k":"g"},
{"i":336.0,"p":0.9553,"t":"4","k":"g"},{"i":330.6,"p":0.9508,"t":"3","k":"g"},
{"i":356.8,"p":0.9632,"t":"2","k":"r"},{"i":342.9,"p":0.9431,"t":"5","k":"g"},
{"i":345.1,"p":0.9431,"t":"1","k":"r"},{"i":374.7,"p":0.9580,"t":"2","k":"g"},
{"i":380.7,"p":0.9520,"t":"4","k":"g"},{"i":364.8,"p":0.9462,"t":"1","k":"g"},
{"i":374.7,"p":0.9423,"t":"3","k":"g"},{"i":383.3,"p":0.9391,"t":"5","k":"g"},
{"i":385.7,"p":0.9391,"t":"3","k":"r"},{"i":405.2,"p":0.9489,"t":"4","k":"r"},
{"i":417.8,"p":0.9323,"t":"5","k":"r"},{"i":420.1,"p":0.9323,"t":"5","k":"m"},
{"i":445.0,"p":0.9568,"t":"1","k":"k"},{"i":460.5,"p":0.9425,"t":"2","k":"k"},
{"i":477.4,"p":0.9674,"t":"3","k":"k"},{"i":486.2,"p":0.9562,"t":"a","k":"r"},
{"i":495.3,"p":0.9662,"t":"b","k":"r"},{"i":505.2,"p":0.9553,"t":"c","k":"r"},
{"i":507.2,"p":0.9553,"t":"4","k":"k"},
{"i":201.5,"p":0.9523,"t":"3","k":"M"}
],
"xt":[
{"i":-1.23,"t":"16 May 2013"},{"i":14.62,"t":"17 May 12:00"},{"i":30.48,"t":"20 May 04:00"},{"i":46.33,"t":"20 May 20:00"},{"i":62.19,"t":"21 May 12:00"},{"i":78.04,"t":"22 May 04:00"},{"i":93.89,"t":"22 May 20:00"},{"i":109.75,"t":"23 May 12:00"},
{"i":125.6,"t":"24 May 04:00"},{"i":141.46,"t":"24 May 20:00"},{"i":157.31,"t":"27 May 12:00"},{"i":173.16,"t":"28 May 04:00"},{"i":189.02,"t":"28 May 20:00"},{"i":204.87,"t":"29 May 12:00"},{"i":220.73,"t":"30 May 04:00"},{"i":236.58,"t":"30 May 20:00"},
{"i":252.43,"t":"31 May 12:00"},{"i":268.29,"t":"3 Jun 04:00"},{"i":284.14,"t":"3 Jun 20:00"},{"i":300.0,"t":"4 Jun 12:00"},{"i":315.85,"t":"5 Jun 04:00"},{"i":331.7,"t":"5 Jun 20:00"},{"i":347.56,"t":"6 Jun 12:00"},{"i":363.41,"t":"7 Jun 04:00"},
{"i":379.27,"t":"7 Jun 20:00"},{"i":395.12,"t":"10 Jun 12:00"},{"i":410.97,"t":"11 Jun 04:00"},{"i":426.83,"t":"11 Jun 20:00"},{"i":442.68,"t":"12 Jun 12:00"},{"i":458.54,"t":"13 Jun 04:00"},{"i":474.39,"t":"13 Jun 20:00"},{"i":490.24,"t":"14 Jun 12:00"}
],
"yt":[
{"p":0.98665},{"p":0.9851},{"p":0.9835},{"p":0.9819},{"p":0.98035},{"p":0.97875},{"p":0.97715},{"p":0.9756},{"p":0.974},{"p":0.9724},{"p":0.97085},{"p":0.96925},
{"p":0.96765},{"p":0.9661},{"p":0.9645},{"p":0.9629},{"p":0.9613},{"p":0.9597},{"p":0.95815},{"p":0.95655},{"p":0.95495},{"p":0.9534},{"p":0.9518},{"p":0.9502},
{"p":0.94865},{"p":0.94705},{"p":0.94545},{"p":0.9423},{"p":0.9407},{"p":0.93915},{"p":0.93755},{"p":0.93595},{"p":0.9344},{"p":0.9328},{"p":0.9312}
]
},
"layer":[
{"data":{"name":"bars"},
 "mark":{"type":"rule","strokeWidth":1},
 "encoding":{
  "x":{"field":"i","type":"quantitative","scale":{"domain":[-0.32,507.8],"nice":false,"zero":false},"axis":null},
  "y":{"field":"l","type":"quantitative","scale":{"domain":[0.9312,0.98753],"nice":false,"zero":false},"axis":null},
  "y2":{"field":"h"},
  "color":{"condition":{"test":"datum.c>=datum.o","value":"#2E952E"},"value":"#EE2020"}
 }},
{"data":{"name":"xt"},
 "mark":{"type":"rule","color":"#1E1E64","strokeWidth":1},
 "encoding":{"x":{"field":"i","type":"quantitative","axis":null},"y":{"datum":0.9312,"axis":null},"y2":{"datum":0.93098}}},
{"data":{"name":"xt"},
 "mark":{"type":"text","align":"left","baseline":"middle","font":"Liberation Sans","fontSize":7.4,"color":"#1E2A78","dx":2},
 "encoding":{"x":{"field":"i","type":"quantitative","axis":null},"y":{"datum":0.93078,"axis":null},"text":{"field":"t"}}},
{"data":{"name":"yt"},
 "mark":{"type":"rule","color":"#1E1E64","strokeWidth":1},
 "encoding":{"x":{"datum":507.8,"axis":null},"x2":{"datum":509.0},"y":{"field":"p","type":"quantitative","axis":null}}},
{"data":{"name":"yt"},
 "mark":{"type":"text","align":"left","baseline":"middle","font":"Liberation Sans","fontSize":6,"color":"#1E2A78"},
 "encoding":{"x":{"datum":510.9,"axis":null},"y":{"field":"p","type":"quantitative","axis":null},"text":{"field":"p","format":".5f"}}},
{"data":{"name":"hl"},
 "mark":{"type":"rule","strokeWidth":1},
 "encoding":{
  "y":{"field":"p","type":"quantitative","axis":null},
  "color":{"field":"k","type":"nominal","scale":{"domain":["o","g","n","b"],"range":["#F29070","#505050","#8A8A8A","#2A2AD0"]},"legend":null}
 }},
{"data":{"name":"tl"},
 "mark":{"type":"line","color":"#7E7E7E","strokeWidth":1},
 "encoding":{
  "x":{"field":"i","type":"quantitative","axis":null},
  "y":{"field":"p","type":"quantitative","axis":null},
  "detail":{"field":"g","type":"nominal"}
 }},
{"data":{"name":"bars"},
 "transform":[{"window":[{"op":"mean","field":"c","as":"m"}],"frame":[-12,0],"sort":[{"field":"i"}]}],
 "mark":{"type":"line","color":"#E85A5A","strokeWidth":1},
 "encoding":{"x":{"field":"i","type":"quantitative","axis":null},"y":{"field":"m","type":"quantitative","axis":null}}},
{"data":{"name":"bars"},
 "transform":[{"window":[{"op":"mean","field":"c","as":"m"}],"frame":[-5,0],"sort":[{"field":"i"}]}],
 "mark":{"type":"line","color":"#E84848","strokeWidth":1},
 "encoding":{"x":{"field":"i","type":"quantitative","axis":null},"y":{"field":"m","type":"quantitative","axis":null}}},
{"data":{"name":"bars"},
 "transform":[{"window":[{"op":"mean","field":"h","as":"m"}],"frame":[-8,0],"sort":[{"field":"i"}]}],
 "mark":{"type":"line","color":"#222222","strokeWidth":1},
 "encoding":{"x":{"field":"i","type":"quantitative","axis":null},"y":{"field":"m","type":"quantitative","axis":null}}},
{"data":{"name":"bars"},
 "transform":[{"window":[{"op":"mean","field":"l","as":"m"}],"frame":[-6,0],"sort":[{"field":"i"}]}],
 "mark":{"type":"line","color":"#222222","strokeWidth":1},
 "encoding":{"x":{"field":"i","type":"quantitative","axis":null},"y":{"field":"m","type":"quantitative","axis":null}}},
{"data":{"name":"bars"},
 "mark":{"type":"rule","strokeWidth":1},
 "encoding":{"x":{"field":"i","type":"quantitative","axis":null},"y":{"field":"l","type":"quantitative","axis":null},"y2":{"field":"h"},
  "color":{"condition":{"test":"datum.c>=datum.o","value":"#2E952E"},"value":"#EE2020"}}},
{"data":{"name":"bars"},
 "mark":{"type":"bar","size":2.4,"orient":"vertical"},
 "encoding":{"x":{"field":"i","type":"quantitative","axis":null},"y":{"field":"o","type":"quantitative","axis":null},"y2":{"field":"c"},
  "color":{"condition":{"test":"datum.c>=datum.o","value":"#128A12"},"value":"#F01818"}}},
{"data":{"name":"lab"},
 "transform":[{"filter":"datum.k!='M'"}],
 "mark":{"type":"text","fontSize":10,"align":"center","baseline":"middle","font":"DejaVu Sans"},
 "encoding":{"x":{"field":"i","type":"quantitative","axis":null},"y":{"field":"p","type":"quantitative","axis":null},"text":{"field":"t"},
  "color":{"field":"k","type":"nominal","scale":{"domain":["g","r","k","m"],"range":["#3E9E3E","#E84040","#202020","#D040D0"]},"legend":null}}},
{"data":{"name":"lab"},
 "transform":[{"filter":"datum.k=='M'"}],
 "mark":{"type":"text","fontSize":13,"align":"center","baseline":"middle","font":"DejaVu Sans","color":"#D040D0"},
 "encoding":{"x":{"field":"i","type":"quantitative","axis":null},"y":{"field":"p","type":"quantitative","axis":null},"text":{"field":"t"}}},
{"data":{"name":"hl"},
 "mark":{"type":"bar","orient":"horizontal","size":9},
 "encoding":{"x":{"datum":508.4,"axis":null},"x2":{"datum":518.6},"y":{"field":"p","type":"quantitative","axis":null},
  "fill":{"field":"k","type":"nominal","scale":{"domain":["o","g","n","b"],"range":["#F0643C","#3C4646","#0A0A28","#2020D0"]},"legend":null}}},
{"data":{"name":"hl"},
 "mark":{"type":"text","align":"left","baseline":"middle","font":"Liberation Sans","fontSize":6.3,"color":"#FFFFFF","dx":2},
 "encoding":{"x":{"datum":508.4,"axis":null},"y":{"field":"p","type":"quantitative","axis":null},"text":{"field":"p","format":".5f"}}},
{"data":{"values":[{"t":"▼ AUDUSD,H1  0.95897 0.95919 0.95647 0.95678"}]},
 "mark":{"type":"text","align":"left","baseline":"middle","font":"Liberation Sans","fontSize":7,"color":"#1E2A78"},
 "encoding":{"x":{"datum":0.7,"axis":null},"y":{"datum":0.98725,"axis":null},"text":{"field":"t"}}},
{"data":{"values":[{"t":"MetaTrader, © 2001-2013, MetaQuotes Software Corp."}]},
 "mark":{"type":"text","align":"left","baseline":"middle","font":"Liberation Sans","fontSize":6.5,"color":"#1E2A78"},
 "encoding":{"x":{"datum":0.7,"axis":null},"y":{"datum":0.93162,"axis":null},"text":{"field":"t"}}}
]
}
